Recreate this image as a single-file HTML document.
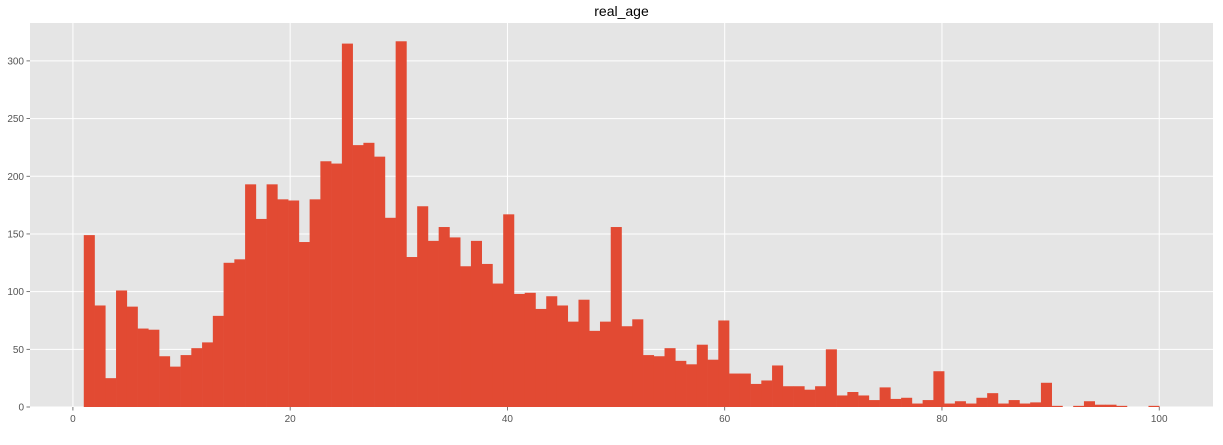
<!DOCTYPE html>
<html><head><meta charset="utf-8"><style>
body{margin:0;background:#fff;font-family:"Liberation Sans","DejaVu Sans",sans-serif}
</style></head><body>
<svg id="chart" width="1223" height="440"></svg>
<script>
const binStart = 1, binEnd = 100;
const counts = [149,88,25,101,87,68,67,44,35,45,51,56,79,125,128,193,163,193,180,179,
143,180,213,211,315,227,229,217,164,317,130,174,144,156,147,122,144,124,107,167,
98,99,85,96,88,74,93,66,74,156,70,76,45,44,51,40,37,54,41,75,
29,29,20,23,36,18,18,15,18,50,10,13,10,6,17,7,8,3,6,31,
3,5,3,8,12,3,6,3,4,21,1,0,1,5,2,2,1,0,0,1];
const xTicks = [0,20,40,60,80,100];
const yTicks = [0,50,100,150,200,250,300];
const title = "real_age";

const NS = "http://www.w3.org/2000/svg";
const svg = document.getElementById('chart');
const L = 30, R = 1213, T = 23, B = 407;
const bw = (binEnd - binStart) / counts.length;
const xmin = binStart - 0.05 * (binEnd - binStart), xmax = binEnd + 0.05 * (binEnd - binStart);
const ymax = Math.max(...counts) * 1.05;
const sx = v => L + (v - xmin) / (xmax - xmin) * (R - L);
const sy = v => B - v / ymax * (B - T);
function mk(tag, attrs) { const e = document.createElementNS(NS, tag); for (const k in attrs) e.setAttribute(k, attrs[k]); svg.appendChild(e); return e; }

const bg = mk('rect', {x: L, y: T, width: R - L, height: B - T, fill: '#E5E5E5'});



yTicks.forEach(t => {
  const g = mk('line', {x1: L, x2: R, y1: sy(t), y2: sy(t), stroke: '#fff', 'stroke-width': 1});
  
  
  const tk = mk('line', {x1: L - 3.5, x2: L, y1: sy(t), y2: sy(t), stroke: '#555', 'stroke-width': 0.8});
  
  
  const lb = mk('text', {x: L - 6, y: sy(t) + 3.5, 'text-anchor': 'end', 'font-size': 10, fill: '#555'});
  lb.textContent = t;
  
  
});
xTicks.forEach(t => {
  const g = mk('line', {x1: sx(t), x2: sx(t), y1: T, y2: B, stroke: '#fff', 'stroke-width': 1});
  
  
  const tk = mk('line', {x1: sx(t), x2: sx(t), y1: B, y2: B + 3.5, stroke: '#555', 'stroke-width': 0.8});
  
  
  const lb = mk('text', {x: sx(t), y: B + 15, 'text-anchor': 'middle', 'font-size': 10, fill: '#555'});
  lb.textContent = t;
  
  
});
counts.forEach((c, i) => {
  const x0 = sx(binStart + i * bw), x1 = sx(binStart + (i + 1) * bw);
  const r = mk('rect', {x: x0, y: sy(c), width: x1 - x0 + 0.3, height: B - sy(c), fill: '#E24A33'});
  
  
});
const tt = mk('text', {x: (L + R) / 2, y: 16, 'text-anchor': 'middle', 'font-size': 14, fill: '#000'});
tt.textContent = title;


</script>
</body></html>
